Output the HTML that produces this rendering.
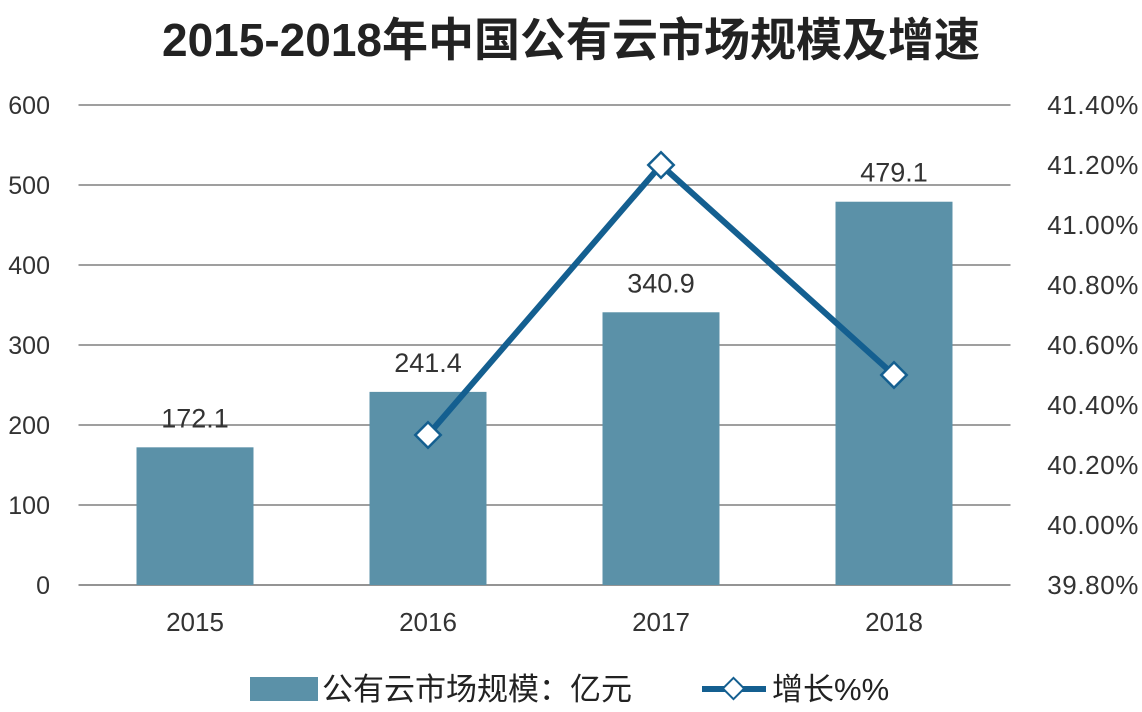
<!DOCTYPE html>
<html><head><meta charset="utf-8"><style>
html,body{margin:0;padding:0;background:#fff;}
svg{display:block;font-family:"Liberation Sans","Noto Sans CJK SC",sans-serif;}
</style></head><body>
<svg id="chart" width="1142" height="712" viewBox="0 0 1142 712">
<text x="571" y="56" text-anchor="middle" font-size="46" font-weight="bold" fill="#222">2015-2018年中国公有云市场规模及增速</text>
<g id="grid"></g><g id="bars"></g><g id="line"></g><g id="axes"></g>
<g>
<rect x="250" y="677" width="68" height="24" fill="#5b91a8"/>
<text x="322" y="700" font-size="31" fill="#222">公有云市场规模：亿元</text>
<line x1="702" y1="689" x2="766" y2="689" stroke="#145f90" stroke-width="6"/>
<rect x="726" y="681" width="15" height="15" fill="#fff" stroke="#145f90" stroke-width="2" transform="rotate(45 733.5 688.5)"/>
<text x="772" y="700" font-size="31" fill="#222">增长%%</text>
</g>
</svg>
<script>
const categories=["2015","2016","2017","2018"];
const marketSize=[172.1,241.4,340.9,479.1];
const growthYears=["2016","2017","2018"];
const growthRate=[40.30,41.20,40.50];
const leftTicks=[0,100,200,300,400,500,600];
const rightTicks=[39.8,40.0,40.2,40.4,40.6,40.8,41.0,41.2,41.4];
const NS="http://www.w3.org/2000/svg";
const X0=78.5,X1=1010.5,Y0=585,Y1=105;
const bw=(X1-X0)/categories.length;
const xC=i=>X0+bw*(i+0.5);
const yL=v=>Y0-(v-0)/(600-0)*(Y0-Y1);
const yR=v=>Y0-(v-39.8)/(41.4-39.8)*(Y0-Y1);
function mk(tag,attrs,parent,text){const e=document.createElementNS(NS,tag);for(const k in attrs)e.setAttribute(k,attrs[k]);if(text!=null)e.textContent=text;document.getElementById(parent).appendChild(e);return e;}
leftTicks.forEach(t=>{
 const g=mk('line',{x1:X0,x2:X1,y1:yL(t),y2:yL(t),stroke:t===0?'#555':'#666','stroke-width':1.3},'grid');
 
 
 const l=mk('text',{x:50,y:yL(t)+9,'text-anchor':'end','font-size':25,fill:'#333'},'axes',String(t));
 
 
});
rightTicks.forEach(t=>{
 const l=mk('text',{x:1139,y:yR(t)+9,'text-anchor':'end','font-size':26,fill:'#333','letter-spacing':'0.6'},'axes',t.toFixed(2)+'%');
 
 
});
categories.forEach((c,i)=>{
 const w=117,v=marketSize[i];
 const r=mk('rect',{x:xC(i)-w/2,y:yL(v),width:w,height:Y0-yL(v),fill:'#5b91a8'},'bars');
 
 
 const t=mk('text',{x:xC(i),y:yL(v)-20,'text-anchor':'middle','font-size':27,fill:'#333'},'bars',v.toFixed(1));
 
 
 const xl=mk('text',{x:xC(i),y:631,'text-anchor':'middle','font-size':26,fill:'#333'},'axes',c);
 
 
});
const pts=growthYears.map((y,j)=>[xC(categories.indexOf(y)),yR(growthRate[j])]);
const pl=mk('polyline',{points:pts.map(p=>p.join(',')).join(' '),fill:'none',stroke:'#145f90','stroke-width':6,'stroke-linejoin':'miter'},'line');


pts.forEach(p=>{
 const m=mk('rect',{x:p[0]-9,y:p[1]-9,width:18,height:18,fill:'#fff',stroke:'#145f90','stroke-width':2.5,transform:`rotate(45 ${p[0]} ${p[1]})`},'line');
 
 
});
</script>
</body></html>
